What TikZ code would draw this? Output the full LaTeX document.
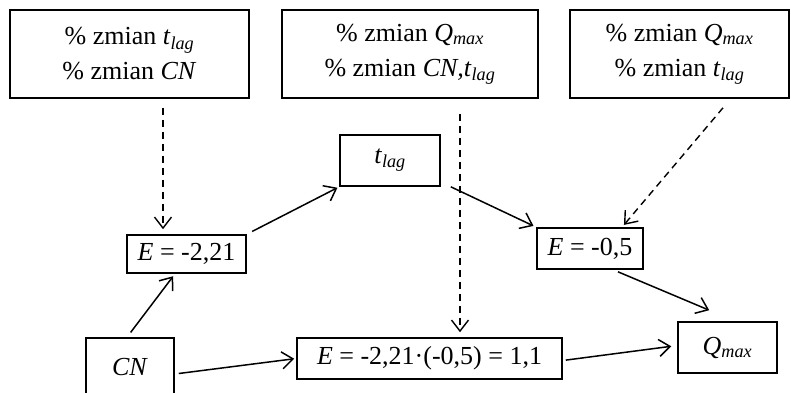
\documentclass[tikz,border=0pt]{standalone}
\usepackage{fontspec}
\setmainfont{Liberation Serif}
\usetikzlibrary{arrows.meta}
\newcommand{\sbi}[1]{\textsubscript{\textit{#1}}}
\begin{document}
\begin{tikzpicture}[x=1pt,y=-1pt,
  font=\fontsize{26}{35}\selectfont,
  box/.style={draw,line width=1.6pt,inner sep=0pt,align=center},
  arr/.style={line width=1.5pt,-{Straight Barb[length=11pt,width=17pt,line width=1.5pt]}},
  darr/.style={line width=1.4pt,dash pattern=on 7pt off 5pt,-{Straight Barb[length=11pt,width=17pt,line width=1.4pt]}}]
\useasboundingbox (0,0) rectangle (791,392);
\node[box,minimum width=239pt,minimum height=88pt] (b1) at (129.5,54) {\% zmian \textit{t}\sbi{lag}\\\% zmian \textit{CN}};
\node[box,minimum width=256pt,minimum height=88pt] (b2) at (410,54) {\% zmian \textit{Q}\sbi{max}\\\% zmian \textit{CN,t}\sbi{lag}};
\node[box,minimum width=219pt,minimum height=88pt] (b3) at (679.5,54) {\% zmian \textit{Q}\sbi{max}\\\% zmian \textit{t}\sbi{lag}};
\node[box,minimum width=100pt,minimum height=51pt] (tlag) at (390,160.5) {\textit{t}\sbi{lag}};
\node[box,minimum width=119pt,minimum height=38pt] (e1) at (186.5,254) {\textit{E} = -2,21};
\node[box,minimum width=88pt,minimum height=62pt] (cn) at (130,369) {\raisebox{4pt}{\textit{CN}}};
\node[box,minimum width=265pt,minimum height=41pt] (eb) at (429.5,358.5) {\textit{E} = -2,21·(-0,5) = 1,1};
\node[box,minimum width=106pt,minimum height=41pt] (em) at (590,248.5) {\textit{E} = -0,5};
\node[box,minimum width=99pt,minimum height=51pt] (q) at (727.5,347.5) {\textit{Q}\sbi{max}};
% solid arrows
\draw[arr,shorten <=6pt,shorten >=3pt] ([xshift=-3pt]cn.north) -- ([xshift=-11.5pt]e1.south);
\draw[arr,shorten <=4pt,shorten >=2pt] ([yshift=-5pt]cn.east) -- (eb.west);
\draw[arr,shorten <=6pt,shorten >=2pt] (e1.north east) -- (tlag.south west);
\draw[arr,shorten >=3pt] ([xshift=10pt]tlag.south east) -- (em.north west);
\draw[arr] ([xshift=28pt,yshift=-2pt]em.south) -- ([xshift=32pt,yshift=11pt]q.north west);
\draw[arr,shorten <=3pt,shorten >=6pt] ([yshift=-2pt]eb.east) -- ([yshift=2pt]q.west);
% dashed arrows
\draw[darr,shorten <=9pt,shorten >=5pt] ([xshift=33.5pt]b1.south) -- ([xshift=-23.5pt]e1.north);
\draw[darr,shorten <=15pt,shorten >=5pt] ([xshift=50pt]b2.south) -- ([xshift=30.5pt]eb.north);
\draw[darr,shorten >=3pt] ([xshift=43.5pt,yshift=-9pt]b3.south) -- ([xshift=32pt]em.north);
\end{tikzpicture}
\end{document}
